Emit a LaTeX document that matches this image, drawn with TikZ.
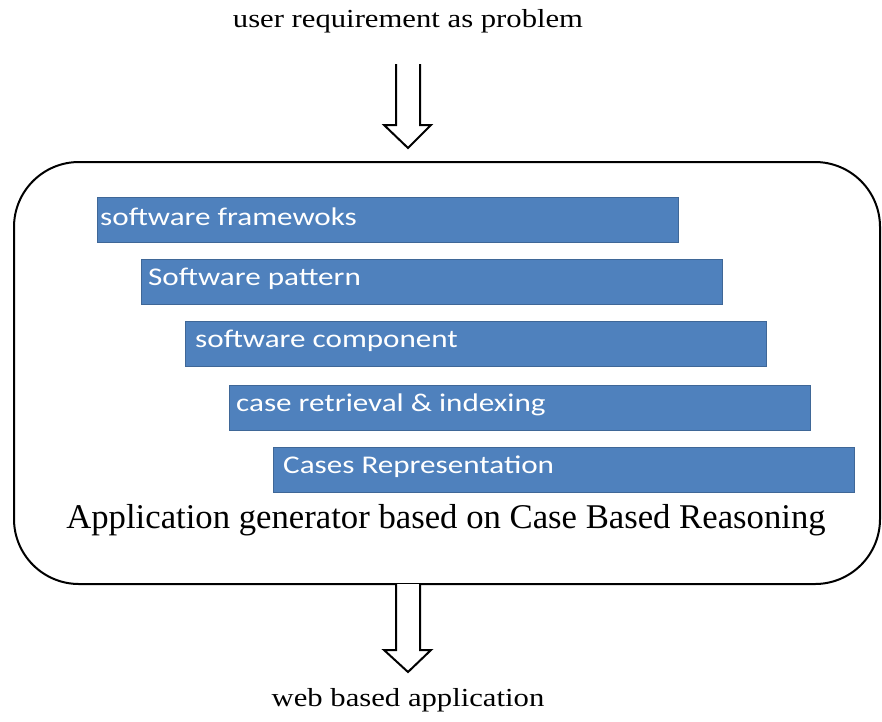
\documentclass[tikz,border=0pt]{standalone}
\usepackage{fontspec}
\setmainfont{Liberation Serif}
\newfontfamily\barfont[FakeStretch=1.22]{Carlito}
\newfontfamily\widefont[FakeStretch=1.18]{Liberation Serif}
\definecolor{barblue}{HTML}{4F81BD}
\begin{document}
\begin{tikzpicture}[x=1pt,y=-1pt,
  bar/.style={fill=barblue,draw=barblue!80!black,line width=0.6pt,minimum width=581pt,minimum height=45pt,anchor=north west,inner sep=0pt},
  bartext/.style={text=white,font=\barfont\fontsize{25.5}{30}\selectfont,anchor=west,inner sep=0pt},
  lbl/.style={font=\widefont\fontsize{26}{30}\selectfont,inner sep=0pt},
  hollow/.style={draw=black,fill=white,line width=2pt,line join=miter}]
\useasboundingbox (0,0) rectangle (882,721);
\draw[line width=2pt,rounded corners=65pt] (14,162) rectangle (880,584);
\node[bar] (b1) at (97,197) {};
\node[bar] (b2) at (141,259) {};
\node[bar] (b3) at (185,321) {};
\node[bar] (b4) at (229,385) {};
\node[bar] (b5) at (273,447) {};
\node[bartext] (t1) at ([xshift=3pt,yshift=3pt]b1.west) {software framewoks};
\node[bartext] (t2) at ([xshift=7pt,yshift=3pt]b2.west) {Software pattern};
\node[bartext] (t3) at ([xshift=10pt,yshift=3pt]b3.west) {software component};
\node[bartext] (t4) at ([xshift=7pt,yshift=3pt]b4.west) {case retrieval \& indexing};
\node[bartext] (t5) at ([xshift=10pt,yshift=3pt]b5.west) {Cases Representation};
\node[inner sep=0pt,font=\fontsize{34.7}{40}\selectfont] (main) at (446,520) {Application generator based on Case Based Reasoning};
\node[lbl] (top) at (408,21) {user requirement as problem};
\node[lbl] (bot) at (408,700) {web based application};
\draw[hollow] (396,64) -- (396,125) -- (384,125) -- (408,148) -- (431,125) -- (420,125) -- (420,64);
\draw[hollow] (396,584) -- (396,650) -- (384,650) -- (408,672) -- (431,650) -- (420,650) -- (420,584);
\end{tikzpicture}
\end{document}
